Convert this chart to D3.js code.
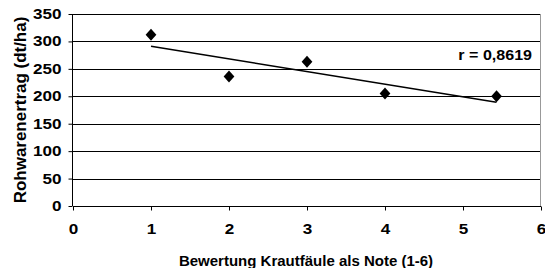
<!DOCTYPE html>
<html>
<head>
<meta charset="utf-8">
<script src="https://cdn.jsdelivr.net/npm/d3@7"></script>
<style>
  body { margin: 0; background: #fff; }
  svg { display: block; font-family: "Liberation Sans", Arial, sans-serif; }
</style>
</head>
<body>
<div id="chart"></div>
<script>
// Data
const noten = [1, 2, 3, 4, 5.43];
const ertrag = [312, 236, 263, 205, 200];
const xTicks = [0, 1, 2, 3, 4, 5, 6];
const yTicks = [0, 50, 100, 150, 200, 250, 300, 350];

const width = 545, height = 268;
const margin = { left: 73, right: 4, top: 14, bottom: 62 };

const svg = d3.select("#chart").append("svg")
    .attr("width", width)
    .attr("height", height);

const x = d3.scaleLinear().domain([0, 6]).range([margin.left, width - margin.right]);
const y = d3.scaleLinear().domain([0, 350]).range([height - margin.bottom, margin.top]);

// stretch text horizontally (the reference font is wider than Liberation Sans)
function stretch(sel, f) {
    sel.each(function () {
        const w = this.getComputedTextLength();
        d3.select(this).attr("textLength", w * f).attr("lengthAdjust", "spacingAndGlyphs");
    });
}

// Gridlines
svg.append("g")
    .selectAll("line")
    .data(yTicks.filter(d => d > 0))
    .join("line")
    .attr("x1", x(0)).attr("x2", x(6))
    .attr("y1", d => Math.round(y(d)) + 0.5)
    .attr("y2", d => Math.round(y(d)) + 0.5)
    .attr("stroke", "#000")
    .attr("stroke-width", 1);

// Right border
svg.append("line")
    .attr("x1", Math.round(x(6)) - 0.5).attr("x2", Math.round(x(6)) - 0.5)
    .attr("y1", y(350)).attr("y2", y(0))
    .attr("stroke", "#999");

// Axes
const xAxis = svg.append("g")
    .attr("transform", `translate(0,${Math.round(y(0)) + 0.5})`)
    .call(d3.axisBottom(x).tickValues(xTicks).tickSize(4).tickPadding(14).tickFormat(d3.format("d")));
const yAxis = svg.append("g")
    .attr("transform", `translate(${Math.round(x(0)) - 0.5},0)`)
    .call(d3.axisLeft(y).tickValues(yTicks).tickSize(4).tickPadding(7));

[xAxis, yAxis].forEach(g => {
    g.select(".domain").attr("stroke", "#000");
    g.selectAll(".tick line").attr("stroke", "#000");
    g.selectAll("text")
        .attr("fill", "#000")
        .style("font-family", "'Liberation Sans', Arial, sans-serif")
        .style("font-size", "14px")
        .style("font-weight", "bold")
        .call(stretch, 1.22);
});
xAxis.select(".domain").attr("d", `M${x(0)},0H${x(6)}`);
yAxis.select(".domain").attr("d", `M0,${y(0)}V${y(350)}`);

// Linear trend line (least squares over the data points)
const mx = d3.mean(noten), my = d3.mean(ertrag);
const slope = d3.sum(noten, (v, i) => (v - mx) * (ertrag[i] - my)) / d3.sum(noten, v => (v - mx) ** 2);
const icpt = my - slope * mx;
const xr = d3.extent(noten);
svg.append("line")
    .attr("x1", x(xr[0])).attr("y1", y(icpt + slope * xr[0]))
    .attr("x2", x(xr[1])).attr("y2", y(icpt + slope * xr[1]))
    .attr("stroke", "#000")
    .attr("stroke-width", 1.5);

// Diamond markers, a bit taller than wide as in Excel
const diamond = {
    draw(ctx, size) {
        const w = Math.sqrt(size) / 2, h = w * 1.12;
        ctx.moveTo(0, -h);
        ctx.lineTo(w, 0);
        ctx.lineTo(0, h);
        ctx.lineTo(-w, 0);
        ctx.closePath();
    }
};
svg.append("g")
    .selectAll("path")
    .data(noten.map((v, i) => [v, ertrag[i]]))
    .join("path")
    .attr("d", d3.symbol(diamond, 115))
    .attr("transform", d => `translate(${x(d[0])},${y(d[1])})`)
    .attr("fill", "#000");

// Correlation label
svg.append("text")
    .attr("x", 532).attr("y", 60)
    .attr("text-anchor", "end")
    .style("font-size", "15px")
    .style("font-weight", "bold")
    .text("r = 0,8619")
    .call(stretch, 1.07);

// Axis titles
svg.append("text")
    .attr("x", 306).attr("y", 266)
    .attr("text-anchor", "middle")
    .style("font-size", "15px")
    .style("font-weight", "bold")
    .text("Bewertung Krautfäule als Note (1-6)");

svg.append("text")
    .attr("transform", `translate(26,${(y(0) + y(350)) / 2}) rotate(-90)`)
    .attr("text-anchor", "middle")
    .style("font-size", "16px")
    .style("font-weight", "bold")
    .text("Rohwarenertrag (dt/ha)")
    .call(stretch, 1.06);
</script>
</body>
</html>
